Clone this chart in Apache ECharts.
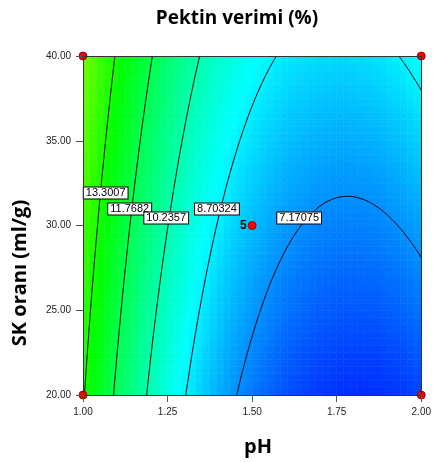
<!DOCTYPE html>
<html>
<head>
<meta charset="utf-8">
<script src="https://cdn.jsdelivr.net/npm/echarts@6/dist/echarts.min.js"></script>
<style>
  html, body { margin: 0; padding: 0; background: #fff; }
  #chart { width: 434px; height: 463px; }
</style>
</head>
<body>
<div id="chart"></div>
<script>
// Factor ranges and axis ticks
const phRange = [1.0, 2.0];
const skRange = [20, 40];
const phTicks = [1.00, 1.25, 1.50, 1.75, 2.00];
const skTicks = [20, 25, 30, 35, 40];

// Fitted quadratic response model (coded factors A = pH, B = SK oranı)
// terms:            1      A      B     AB    A^2   B^2
const modelCoefs = [7.885, -3.3, 1.125, 0.4, 2.87, 0.05];

// Contour levels and where their labels sit
const contourLevels = [13.3007, 11.7682, 10.2357, 8.70324, 7.17075];
const labelPH = [1.067, 1.138, 1.246, 1.396, 1.639];
const labelSK = [31.92, 30.97, 30.44, 30.97, 30.44];

// Design points (factorial corners and centre point with 5 replicates)
const designPH = [1.0, 1.0, 2.0, 2.0, 1.5];
const designSK = [20, 40, 20, 40, 30];
const designRuns = ['', '', '', '', '5'];

// Colour scale range of the response
const colorMin = 4.9;
const colorMax = 17.0;

function response(ph, sk) {
  const a = (ph - (phRange[0] + phRange[1]) / 2) / ((phRange[1] - phRange[0]) / 2);
  const b = (sk - (skRange[0] + skRange[1]) / 2) / ((skRange[1] - skRange[0]) / 2);
  const c = modelCoefs;
  return c[0] + c[1] * a + c[2] * b + c[3] * a * b + c[4] * a * a + c[5] * b * b;
}

// Shaded surface cells
const NCELL = 48;
const cells = [];
for (let j = 0; j < NCELL; j++) {
  for (let i = 0; i < NCELL; i++) {
    const x0 = phRange[0] + (phRange[1] - phRange[0]) * i / NCELL;
    const x1 = phRange[0] + (phRange[1] - phRange[0]) * (i + 1) / NCELL;
    const y0 = skRange[0] + (skRange[1] - skRange[0]) * j / NCELL;
    const y1 = skRange[0] + (skRange[1] - skRange[0]) * (j + 1) / NCELL;
    cells.push([x0, y0, x1, y1, response((x0 + x1) / 2, (y0 + y1) / 2)]);
  }
}

// Marching squares, chained into polylines
function contourLines(level, n) {
  const xs = [], ys = [], f = [];
  for (let i = 0; i <= n; i++) {
    xs.push(phRange[0] + (phRange[1] - phRange[0]) * i / n);
    ys.push(skRange[0] + (skRange[1] - skRange[0]) * i / n);
  }
  for (let j = 0; j <= n; j++) {
    f.push([]);
    for (let i = 0; i <= n; i++) f[j].push(response(xs[i], ys[j]) - level);
  }
  const pts = {}, adj = {};
  function ep(key, xa, ya, va, xb, yb, vb) {
    const t = va / (va - vb);
    pts[key] = [xa + (xb - xa) * t, ya + (yb - ya) * t];
    return key;
  }
  function link(k1, k2) {
    (adj[k1] = adj[k1] || []).push(k2);
    (adj[k2] = adj[k2] || []).push(k1);
  }
  for (let j = 0; j < n; j++) {
    for (let i = 0; i < n; i++) {
      const v00 = f[j][i], v10 = f[j][i + 1], v01 = f[j + 1][i], v11 = f[j + 1][i + 1];
      const hits = [];
      if ((v00 < 0) !== (v10 < 0)) hits.push(ep('h' + i + '_' + j, xs[i], ys[j], v00, xs[i + 1], ys[j], v10));
      if ((v10 < 0) !== (v11 < 0)) hits.push(ep('v' + (i + 1) + '_' + j, xs[i + 1], ys[j], v10, xs[i + 1], ys[j + 1], v11));
      if ((v01 < 0) !== (v11 < 0)) hits.push(ep('h' + i + '_' + (j + 1), xs[i], ys[j + 1], v01, xs[i + 1], ys[j + 1], v11));
      if ((v00 < 0) !== (v01 < 0)) hits.push(ep('v' + i + '_' + j, xs[i], ys[j], v00, xs[i], ys[j + 1], v01));
      for (let k = 0; k + 1 < hits.length; k += 2) link(hits[k], hits[k + 1]);
    }
  }
  const used = new Set();
  const segId = (a, b) => (a < b ? a + '|' + b : b + '|' + a);
  const lines = [];
  function walk(start) {
    const line = [pts[start]];
    let cur = start;
    for (;;) {
      const next = (adj[cur] || []).find(k => !used.has(segId(cur, k)));
      if (next === undefined) break;
      used.add(segId(cur, next));
      line.push(pts[next]);
      cur = next;
    }
    if (line.length > 1) lines.push(line);
  }
  Object.keys(adj).filter(k => adj[k].length === 1).forEach(walk);
  Object.keys(adj).forEach(walk);
  return lines;
}

const series = [];

series.push({
  type: 'custom',
  silent: true,
  z: 1,
  clip: true,
  data: cells,
  encode: { x: [0, 2], y: [1, 3] },
  renderItem: function (params, api) {
    const p0 = api.coord([api.value(0), api.value(3)]);
    const p1 = api.coord([api.value(2), api.value(1)]);
    const col = api.visual('color');
    return {
      type: 'rect',
      shape: { x: p0[0], y: p0[1], width: p1[0] - p0[0], height: p1[1] - p0[1] },
      style: { fill: col, stroke: col, lineWidth: 0.6 }
    };
  }
});

contourLevels.forEach(function (lv) {
  contourLines(lv, 160).forEach(function (poly) {
    series.push({
      type: 'line',
      data: poly,
      symbol: 'none',
      silent: true,
      z: 3,
      clip: true,
      lineStyle: { color: '#000', width: 1 }
    });
  });
});

series.push({
  type: 'scatter',
  silent: true,
  z: 6,
  symbol: 'circle',
  symbolSize: 1,
  itemStyle: { color: 'rgba(0,0,0,0)', opacity: 1 },
  data: contourLevels.map((lv, i) => [labelPH[i], labelSK[i], lv]),
  label: {
    show: true,
    position: 'inside',
    formatter: p => String(p.value[2]),
    backgroundColor: '#fff',
    borderColor: '#000',
    borderWidth: 1,
    padding: [0, 2, 0, 2],
    lineHeight: 11,
    fontSize: 11,
    fontFamily: 'Liberation Sans',
    color: '#000'
  }
});

series.push({
  type: 'scatter',
  silent: true,
  z: 8,
  clip: false,
  symbolSize: 8,
  itemStyle: { color: '#ff0000', borderColor: '#7a0000', borderWidth: 0.8, opacity: 1 },
  data: designPH.map((x, i) => [x, designSK[i], designRuns[i]]),
  label: {
    show: true,
    position: 'left',
    distance: 1,
    formatter: p => p.value[2],
    fontSize: 12,
    fontWeight: 'bold',
    fontFamily: 'Liberation Sans',
    color: '#000'
  }
});

const chart = echarts.init(document.getElementById('chart'), null, { renderer: 'canvas' });
chart.setOption({
  animation: false,
  backgroundColor: '#fff',
  grid: { left: 83, right: 10, top: 56, bottom: 68 },
  visualMap: {
    show: false,
    type: 'continuous',
    seriesIndex: 0,
    dimension: 4,
    min: colorMin,
    max: colorMax,
    inRange: { color: ['#0000ff', '#00ffff', '#00ff00', '#ffff00'] }
  },
  xAxis: [{
    type: 'value',
    min: phRange[0], max: phRange[1], interval: phTicks[1] - phTicks[0],
    z: 10,
    axisLine: { show: true, onZero: false, lineStyle: { color: '#333', width: 1 } },
    axisTick: { show: true, length: 7, lineStyle: { color: '#555' } },
    axisLabel: {
      margin: 12, fontSize: 10, fontFamily: 'Liberation Sans', color: '#222',
      showMinLabel: true, showMaxLabel: true,
      formatter: v => v.toFixed(2)
    },
    splitLine: { show: false }
  }, {
    type: 'value', position: 'top',
    min: phRange[0], max: phRange[1], z: 10,
    axisLine: { show: true, onZero: false, lineStyle: { color: '#333', width: 1 } },
    axisTick: { show: false }, axisLabel: { show: false }, splitLine: { show: false }
  }],
  yAxis: [{
    type: 'value',
    min: skRange[0], max: skRange[1], interval: skTicks[1] - skTicks[0],
    z: 10,
    axisLine: { show: true, onZero: false, lineStyle: { color: '#333', width: 1 } },
    axisTick: { show: true, length: 7, lineStyle: { color: '#555' } },
    axisLabel: {
      margin: 12, fontSize: 10, fontFamily: 'Liberation Sans', color: '#222',
      showMinLabel: true, showMaxLabel: true,
      formatter: v => v.toFixed(2)
    },
    splitLine: { show: false }
  }, {
    type: 'value', position: 'right',
    min: skRange[0], max: skRange[1], z: 10,
    axisLine: { show: true, onZero: false, lineStyle: { color: '#333', width: 1 } },
    axisTick: { show: false }, axisLabel: { show: false }, splitLine: { show: false }
  }],
  graphic: [
    {
      type: 'text', x: 237, y: 19,
      style: { text: 'Pektin verimi (%)', font: 'bold 19px "Open Sans"', fill: '#000', align: 'center', verticalAlign: 'middle' }
    },
    {
      type: 'text', x: 258, y: 447,
      style: { text: 'pH', font: 'bold 20px "Open Sans"', fill: '#000', align: 'center', verticalAlign: 'middle' }
    },
    {
      type: 'text', x: 20, y: 273, rotation: Math.PI / 2,
      style: { text: 'SK oranı (ml/g)', font: 'bold 20px "Open Sans"', fill: '#000', align: 'center', verticalAlign: 'middle' }
    }
  ],
  series: series
});
</script>
</body>
</html>
